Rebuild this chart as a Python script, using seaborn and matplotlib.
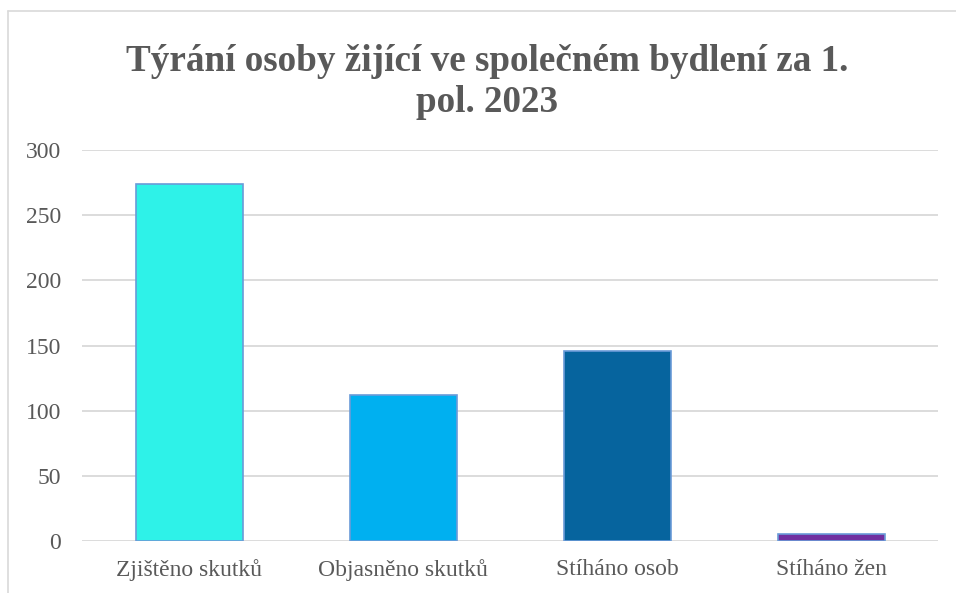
import matplotlib
matplotlib.use("Agg")
import matplotlib.pyplot as plt
import matplotlib.patheffects as pe
from matplotlib.lines import Line2D
import seaborn as sns
import pandas as pd

# Chart data
categories = ["Zjištěno skutků", "Objasněno skutků", "Stíháno osob", "Stíháno žen"]
values = [274, 112, 146, 5]
bar_colors = ["#2EF2E8", "#00B0F0", "#06649E", "#7030A0"]
y_ticks = [0, 50, 100, 150, 200, 250, 300]

title = "Týrání osoby žijící ve společném bydlení za 1.\npol. 2023"

sns.set_theme(style="white")
plt.rcParams["font.family"] = ["Liberation Serif", "DejaVu Serif"]

df = pd.DataFrame({"kategorie": categories, "pocet": values})

fig = plt.figure(figsize=(9.56, 5.93), dpi=100)
ax = fig.add_axes([0.0858, 0.0877, 0.8954, 0.6593])

sns.barplot(data=df, x="kategorie", y="pocet", hue="kategorie",
            palette=bar_colors, legend=False, width=0.5, ax=ax,
            edgecolor="#6A9BD8", linewidth=1.2, saturation=1)

for p in ax.patches:
    p.set_path_effects([pe.SimplePatchShadow(offset=(0, 0), shadow_rgbFace="#999999", alpha=0.35),
                        pe.Normal()])

ax.set_ylim(0, 300)
ax.set_xlim(-0.5, len(categories) - 0.5)
ax.set_yticks(y_ticks)
ax.yaxis.grid(True, color="#D9D9D9", linewidth=1.3)
ax.set_axisbelow(True)
for s in ax.spines.values():
    s.set_visible(False)
ax.set_xlabel("")
ax.set_ylabel("")
ax.tick_params(axis="both", length=0, labelsize=17, labelcolor="#595959")
ax.tick_params(axis="y", pad=15)
ax.tick_params(axis="x", pad=13)

fig.text(0.510, 0.798, title, ha="center", va="bottom", fontsize=26.7,
         fontweight="bold", color="#595959", linespacing=1.2)

# outer chart-area border (partially cropped in the reference)
fig.add_artist(Line2D([8 / 956, 8 / 956], [0, 1 - 11 / 593], color="#D9D9D9", lw=1.2))
fig.add_artist(Line2D([8 / 956, 1], [1 - 11 / 593, 1 - 11 / 593], color="#D9D9D9", lw=1.2))

fig.savefig("out.png", dpi=100)
